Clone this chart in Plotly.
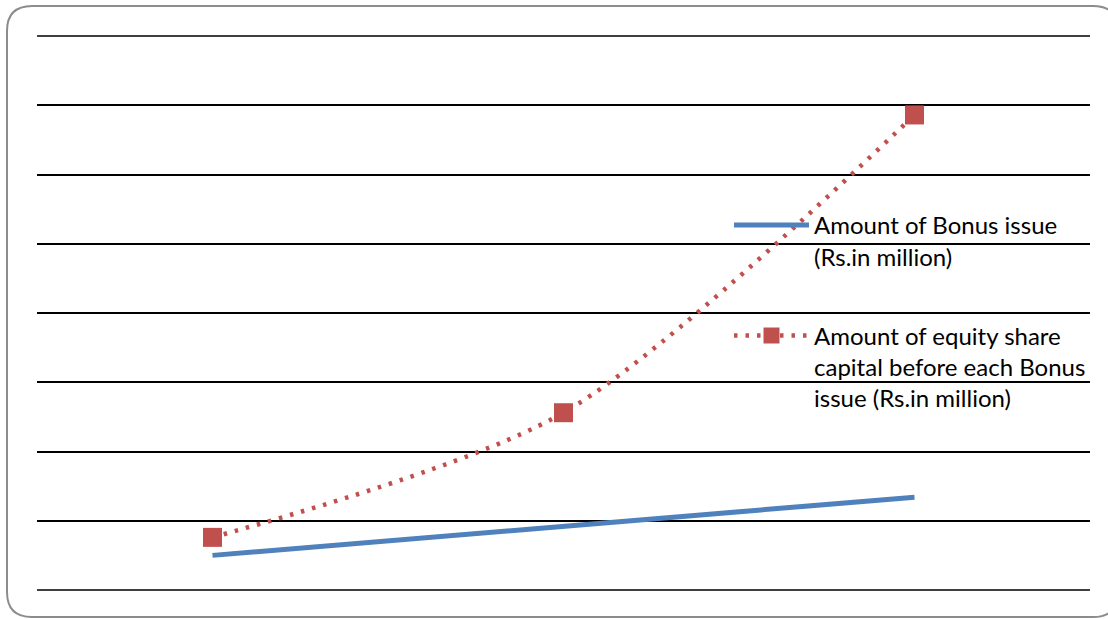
import plotly.graph_objects as go

# Data (gridline step = 50 units)
categories = ["Issue 1", "Issue 2", "Issue 3"]
bonus_issue = [25, 46, 67]
equity_before = [38, 128, 343]
series_names = [
    "Amount of Bonus issue<br>(Rs.in million)",
    "Amount of equity share<br>capital before each Bonus<br>issue (Rs.in million)",
]

W, H = 1108, 619
L, R, T, B = 37, 18, 36, 29
pw, ph = W - L - R, H - T - B

def px(x):
    return (x - L) / pw

def py(y):
    return (H - B - y) / ph

fig = go.Figure()
fig.add_trace(go.Scatter(
    x=categories, y=bonus_issue, name=series_names[0], mode="lines",
    legendgroup="a",
    line=dict(color="#4F81BD", width=5),
))
fig.add_trace(go.Scatter(
    x=categories, y=equity_before, name=series_names[1], mode="lines+markers",
    legendgroup="b",
    line=dict(color="#C0504D", width=4.5, dash="3.5px,8px", shape="spline", smoothing=0.8),
    marker=dict(symbol="square", size=19, color="#C0504D"),
))

# rounded chart-area border
r = 25
x0, x1, y0, y1 = 7, 1118, 6, 617
path = (
    f"M {px(x0+r)} {py(y0)} L {px(x1-r)} {py(y0)} "
    f"Q {px(x1)} {py(y0)} {px(x1)} {py(y0+r)} "
    f"L {px(x1)} {py(y1-r)} Q {px(x1)} {py(y1)} {px(x1-r)} {py(y1)} "
    f"L {px(x0+r)} {py(y1)} Q {px(x0)} {py(y1)} {px(x0)} {py(y1-r)} "
    f"L {px(x0)} {py(y0+r)} Q {px(x0)} {py(y0)} {px(x0+r)} {py(y0)} Z"
)
fig.add_shape(type="path", path=path, xref="paper", yref="paper",
              line=dict(color="#8C8C8C", width=2), layer="below")

fig.update_layout(
    width=W, height=H,
    margin=dict(l=L, r=R, t=T, b=B),
    paper_bgcolor="white", plot_bgcolor="white",
    font=dict(family="Lato, Open Sans, sans-serif", size=24, color="black"),
    xaxis=dict(type="category", range=[-0.5, 2.5], showgrid=False, showticklabels=False,
               zeroline=False, showline=False, ticks=""),
    yaxis=dict(range=[0, 400], dtick=50, showgrid=True, gridcolor="black", gridwidth=1.5,
               showticklabels=False, zeroline=False, showline=False, ticks=""),
    legend=dict(x=px(729), y=py(203), xanchor="left", yanchor="top",
                bgcolor="rgba(0,0,0,0)", font=dict(size=24), tracegroupgap=45,
                itemwidth=75, traceorder="grouped", valign="top"),
    showlegend=True,
)
# gridlines at the range edges (paper refs so they are not clipped)
for yv in (0, 1):
    fig.add_shape(type="line", xref="paper", yref="paper", x0=0, x1=1, y0=yv, y1=yv,
                  line=dict(color="black", width=1.5), layer="below")

fig.write_html("out.html", config={"displayModeBar": False},
               post_script="document.body.style.margin='0';")
